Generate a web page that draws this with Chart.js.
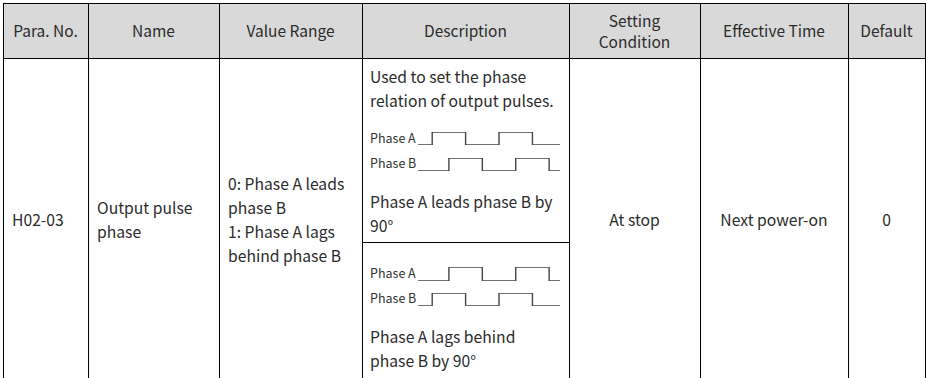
<!DOCTYPE html>
<html>
<head>
<meta charset="utf-8">
<script src="https://cdn.jsdelivr.net/npm/chart.js@4.4.0/dist/chart.umd.min.js"></script>
<style>
  html, body { margin: 0; padding: 0; background: #fff; }
  body { width: 926px; height: 378px; overflow: hidden; position: relative;
         font-family: "Noto Sans CJK SC", "Source Sans Pro", "Noto Sans", sans-serif; color: #2b2b2b; }
  .abs { position: absolute; }
  .line { position: absolute; background: #000; }
  .cell { position: absolute; display: flex; align-items: center; box-sizing: border-box;
          font-size: 15.7px; line-height: 24px; white-space: pre-line; }
  .head { justify-content: center; text-align: center; line-height: 21px; font-size: 15.5px; }
  .txt { position: absolute; font-size: 15.7px; line-height: 24px; white-space: pre-line; }
  .lbl { position: absolute; font-size: 12.5px; line-height: 12px; color: #333; }
  .wave { position: absolute; width: 146px; }
</style>
</head>
<body>
<script>
// Table text
const headers = ["Para. No.", "Name", "Value Range", "Description", "Setting\nCondition", "Effective Time", "Default"];
const rowValues = ["H02-03", "Output pulse\nphase", "0: Phase A leads\nphase B\n1: Phase A lags\nbehind phase B", "", "At stop", "Next power-on", "0"];
const descIntro = "Used to set the phase\nrelation of output pulses.";
const descLead = "Phase A leads phase B by\n90°";
const descLag = "Phase A lags behind\nphase B by 90°";
const phaseLabels = ["Phase A", "Phase B"];

// Pulse edges, in quarter periods
const pulseSpan = [-0.85, 7.65];
const earlyEdges = [0, 2, 4, 6];
const lateEdges = [1, 3, 5, 7];

// Layout
const colX = [3, 88, 219, 362, 569, 700, 848, 925];
const topY = 3, headBottom = 58, rowBottom = 382, descSplit = 242;

function add(cls, css, text) {
    const d = document.createElement("div");
    d.className = cls;
    Object.assign(d.style, css);
    if (text !== undefined) d.textContent = text;
    document.body.appendChild(d);
    return d;
}

// header background
add("abs", { left: colX[0] + "px", top: topY + "px", width: (colX[7] - colX[0]) + "px",
             height: (headBottom - topY) + "px", background: "#d9d9d9" });

// grid lines
colX.forEach(x => add("line", { left: x + "px", top: topY + "px", width: "1px", height: (rowBottom - topY) + "px" }));
add("line", { left: colX[0] + "px", top: topY + "px", width: (colX[7] - colX[0] + 1) + "px", height: "1px" });
add("line", { left: colX[0] + "px", top: headBottom + "px", width: (colX[7] - colX[0] + 1) + "px", height: "1px" });
add("line", { left: colX[3] + "px", top: descSplit + "px", width: (colX[4] - colX[3]) + "px", height: "1px" });

// header and row cells
headers.forEach((h, i) => {
    add("cell head", { left: colX[i] + "px", top: topY + "px", width: (colX[i + 1] - colX[i]) + "px",
                       height: (headBottom - topY) + "px" }, h);
});
rowValues.forEach((v, i) => {
    if (!v) return;
    const centered = i >= 4;
    add("cell", { left: colX[i] + "px", top: headBottom + "px", width: (colX[i + 1] - colX[i]) + "px",
                  height: (rowBottom - headBottom) + "px",
                  justifyContent: centered ? "center" : "flex-start",
                  textAlign: centered ? "center" : "left",
                  paddingLeft: centered ? "0" : "9px" }, v);
});

// description texts
add("txt", { left: "370px", top: "65px" }, descIntro);
add("txt", { left: "370px", top: "190px" }, descLead);
add("txt", { left: "370px", top: "325px" }, descLag);

function pulsePoints(edges) {
    const pts = [{ x: pulseSpan[0], y: 0 }];
    edges.forEach((e, k) => pts.push({ x: e, y: k % 2 === 0 ? 1 : 0 }));
    pts.push({ x: pulseSpan[1], y: 0 });
    return pts;
}

function drawWave(edges, highY, lowY, label, labelY) {
    add("lbl", { left: "370px", top: (labelY - 6) + "px" }, label);
    const box = add("wave", { left: "416px", top: (highY - 2) + "px", height: (lowY - highY + 4) + "px" });
    const cv = document.createElement("canvas");
    box.appendChild(cv);
    new Chart(cv.getContext("2d"), {
        type: "line",
        data: {
            datasets: [{
                data: pulsePoints(edges),
                borderColor: "#444",
                borderWidth: 1.4,
                pointRadius: 0,
                stepped: true,
                fill: false
            }]
        },
        options: {
            responsive: true,
            maintainAspectRatio: false,
            animation: false,
            layout: { padding: 2 },
            plugins: { legend: { display: false }, tooltip: { enabled: false } },
            scales: {
                x: { type: "linear", min: pulseSpan[0], max: pulseSpan[1], display: false },
                y: { min: 0, max: 1, display: false }
            }
        }
    });
}

// Phase A leads phase B
drawWave(earlyEdges, 132, 145, phaseLabels[0], 138);
drawWave(lateEdges, 158, 171, phaseLabels[1], 163);
// Phase A lags phase B
drawWave(lateEdges, 267, 281, phaseLabels[0], 273);
drawWave(earlyEdges, 293, 306, phaseLabels[1], 298);
</script>
</body>
</html>
